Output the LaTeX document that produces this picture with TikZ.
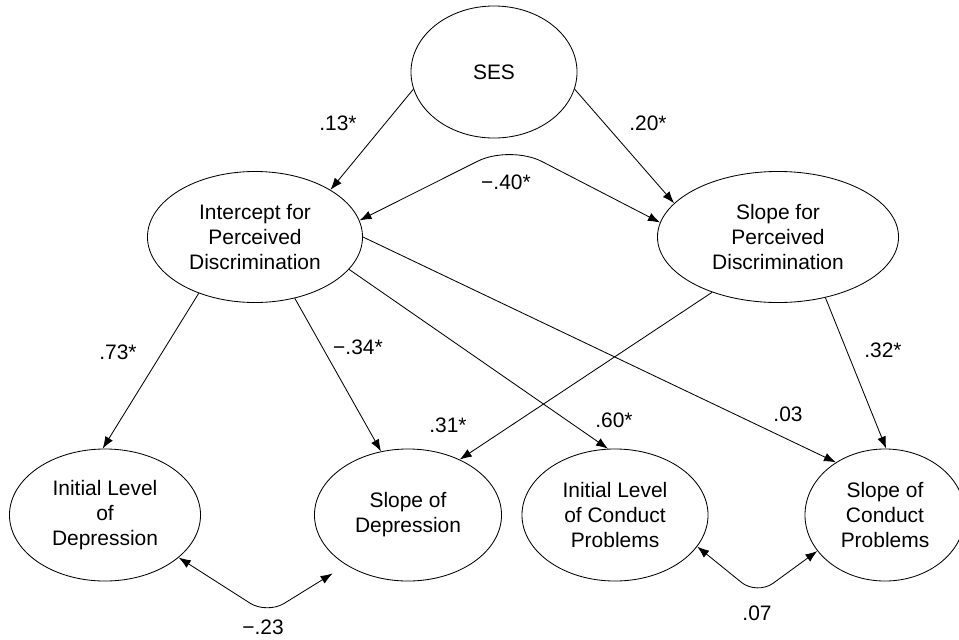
\documentclass[tikz,border=0pt]{standalone}
\usepackage{fontspec}
\setmainfont{Liberation Sans}
\usetikzlibrary{shapes.geometric,arrows.meta}

\begin{document}
\begin{tikzpicture}[x=0.025cm, y=-0.025cm,
    every node/.style={font=\fontsize{14.9}{17.8}\selectfont},
    latent/.style={draw, ellipse, inner sep=0pt, minimum height=3.3cm, align=center, line width=0.6pt},
    effect/.style={-{Latex[length=3mm,width=2.2mm]}, line width=0.6pt},
    covar/.style={{Latex[length=3mm,width=2.2mm]}-{Latex[length=3mm,width=2.2mm]}, line width=0.6pt}]
    \useasboundingbox (0,0) rectangle (959,639);

    % Latent factors
    \node[latent, minimum width=4.15cm] (ses) at (494,72) {SES};
    \node[latent, minimum width=5.375cm, minimum height=3.275cm] (ipd) at (255,237) {Intercept for\\Perceived\\Discrimination};
    \node[latent, minimum width=6.025cm, minimum height=3.275cm] (spd) at (778,237) {Slope for\\Perceived\\Discrimination};
    \node[latent, minimum width=4.775cm] (idep) at (105,515) {Initial Level\\of\\Depression};
    \node[latent, minimum width=4.675cm] (sdep) at (408,515) {Slope of\\Depression};
    \node[latent, minimum width=4.65cm] (icp) at (615,515) {Initial Level\\of Conduct\\Problems};
    \node[latent, minimum width=4cm] (scp) at (885,515) {Slope of\\Conduct\\Problems};

    % Paths
    \draw[effect] (ses.192) -- (ipd.32);
    \draw[effect] (ses.348) -- (spd.162);
    \draw[effect] (ipd.225) -- (idep.92);
    \draw[effect] (ipd.303) -- (sdep.113);
    \draw[effect] (ipd.341) -- (icp.96);
    \draw[effect] (ipd.0) -- (scp.133);
    \draw[effect] (spd.220) -- (sdep.47);
    \draw[effect] (spd.308) -- (scp.89);

    % Covariances
    \draw[covar, rounded corners=0.9cm] (ipd.9) -- (510,145) -- (spd.173);
    \draw[covar, rounded corners=0.5cm, shorten >=0.4cm] (idep.330) -- (267,614) -- (sdep.219);
    \draw[covar, rounded corners=0.5cm] (icp.339) -- (757,595) -- (scp.208);

    % Coefficients
    \node (c13) at (338,123) {.13*};
    \node (c20) at (648,123) {.20*};
    \node (c40) at (506,182) {−.40*};
    \node (c73) at (118,352) {.73*};
    \node (c34) at (358,347) {−.34*};
    \node (c32) at (883,350) {.32*};
    \node (c31) at (448,425) {.31*};
    \node (c60) at (614,420) {.60*};
    \node (c03) at (788,414) {.03};
    \node (c23) at (263,627) {−.23};
    \node (c07) at (757,613) {.07};
\end{tikzpicture}
\end{document}
